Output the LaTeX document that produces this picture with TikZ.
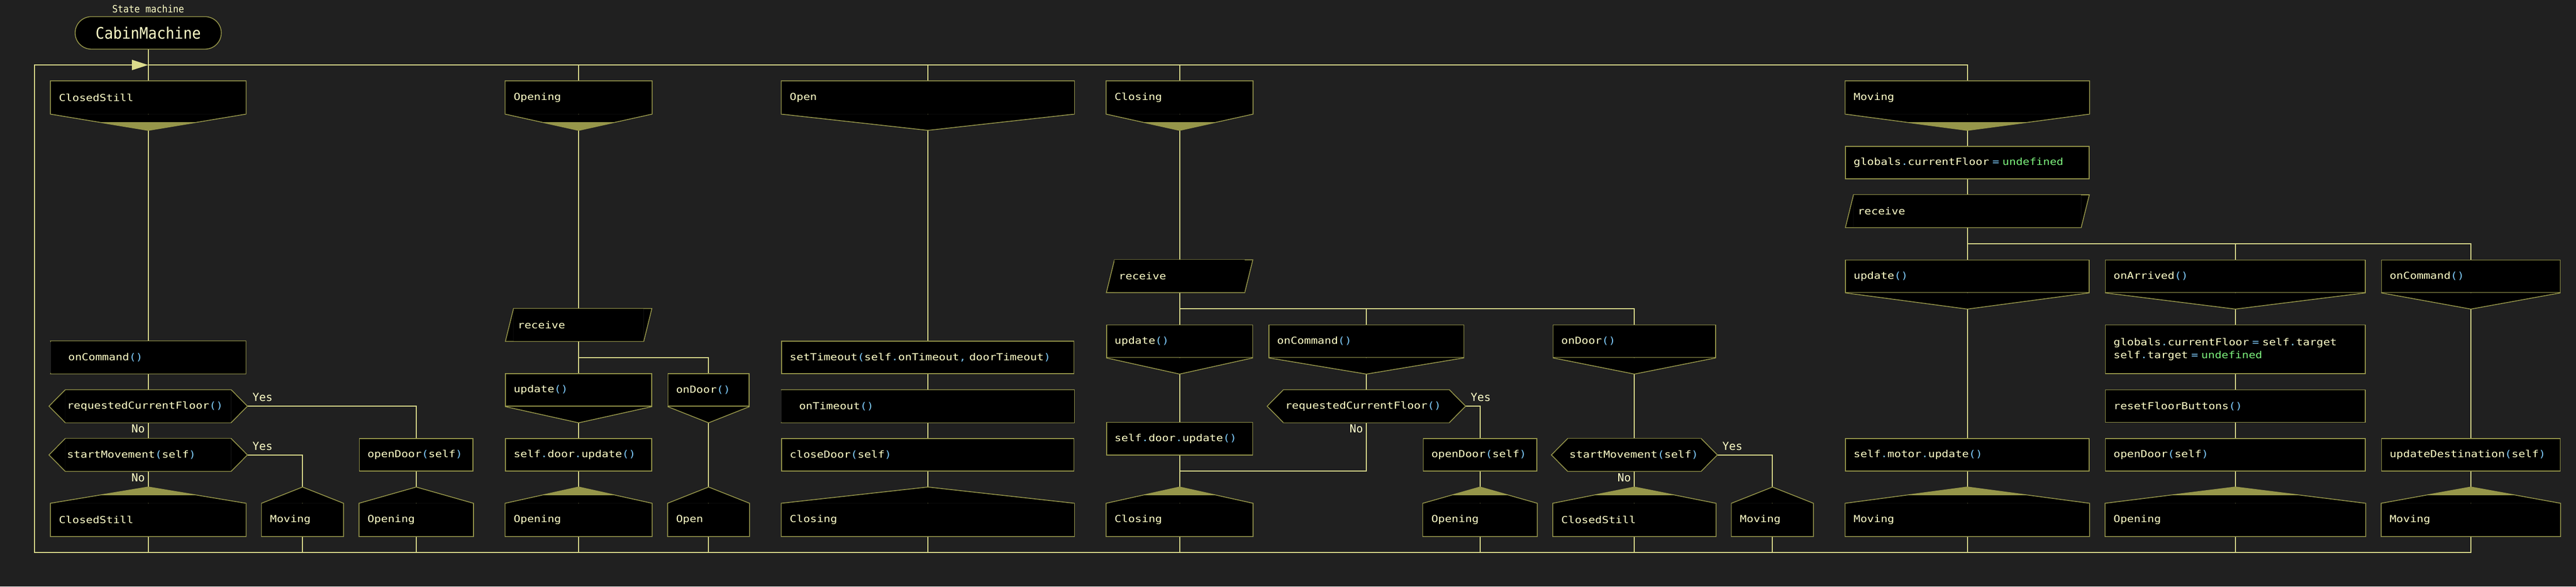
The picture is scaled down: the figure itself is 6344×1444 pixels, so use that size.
\documentclass[tikz,border=0pt]{standalone}
\usepackage{fontspec}
\usetikzlibrary{arrows.meta,calc}

\newfontfamily\codefam[FakeStretch=1.17]{DejaVu Sans Mono}
\newfontfamily\ttlfam[FakeStretch=0.92]{DejaVu Sans Mono}
\newfontfamily\lblfam{DejaVu Sans Mono}

\definecolor{bgc}{HTML}{202020}
\definecolor{linec}{HTML}{DCDC8C}
\definecolor{boxc}{HTML}{96964A}
\definecolor{txtc}{HTML}{FFFFC8}
\definecolor{punc}{HTML}{7CC8F8}
\definecolor{undefc}{HTML}{7CF07C}

\newcommand\pnc[1]{\textcolor{punc}{#1}}
\newcommand\undf{\textcolor{undefc}{undefined}}

\pgfdeclarelayer{bg}
\pgfdeclarelayer{lines}
\pgfsetlayers{bg,lines,main}

\begin{document}
\begin{tikzpicture}[x=0.5pt,y=-0.5pt,
                    ln/.style={draw=linec,line width=1.25pt},
                    outl/.style={draw=boxc,line width=1pt}]
  \tikzset{bx/.style={fill=black,draw=none,text=txtc,align=left,inner ysep=0pt,
                      minimum height=40pt,font=\codefam\fontsize{11.85pt}{16pt}\selectfont},
    act/.style={bx,outl,inner xsep=10pt,text width=#1*0.5pt-20pt},
    hdr/.style={act=#1,draw=none,append after command={\pgfextra{
      \fill[black] (\tikzlastnode.south west) -- ([yshift=-20pt]\tikzlastnode.south) -- (\tikzlastnode.south east) -- cycle;
      \draw[outl] (\tikzlastnode.north west) -- (\tikzlastnode.north east) -- (\tikzlastnode.south east)
        -- ([yshift=-20pt]\tikzlastnode.south) -- (\tikzlastnode.south west) -- cycle;}}},
    ftr/.style={act=#1,draw=none,append after command={\pgfextra{
      \fill[black] (\tikzlastnode.north west) -- ([yshift=20pt]\tikzlastnode.north) -- (\tikzlastnode.north east) -- cycle;
      \draw[outl] (\tikzlastnode.south west) -- (\tikzlastnode.north west) -- ([yshift=20pt]\tikzlastnode.north)
        -- (\tikzlastnode.north east) -- (\tikzlastnode.south east) -- cycle;}}},
    mkd/.style={append after command={\pgfextra{
      \fill[boxc] ($(\tikzlastnode.south west)!.5!([yshift=-20pt]\tikzlastnode.south)$) -- ([yshift=-20pt]\tikzlastnode.south)
        -- ($(\tikzlastnode.south east)!.5!([yshift=-20pt]\tikzlastnode.south)$) -- cycle;}}},
    mku/.style={append after command={\pgfextra{
      \fill[boxc] ($(\tikzlastnode.north west)!.5!([yshift=20pt]\tikzlastnode.north)$) -- ([yshift=20pt]\tikzlastnode.north)
        -- ($(\tikzlastnode.north east)!.5!([yshift=20pt]\tikzlastnode.north)$) -- cycle;}}},
    cse/.style={act=#1,append after command={\pgfextra{
      \draw[outl,fill=black] (\tikzlastnode.south west) -- ([yshift=-20pt]\tikzlastnode.south) -- (\tikzlastnode.south east);}}},
    evt/.style={bx,inner xsep=21.5pt,text width=#1*0.5pt-43pt,append after command={\pgfextra{
      \fill[bgc] (\tikzlastnode.north west) -- ([xshift=14pt]\tikzlastnode.west) -- (\tikzlastnode.south west) -- cycle;
      \draw[outl] (\tikzlastnode.north west) -- (\tikzlastnode.north east) -- (\tikzlastnode.south east)
        -- (\tikzlastnode.south west) -- ([xshift=14pt]\tikzlastnode.west) -- cycle;}}},
    qst/.style={bx,inner xsep=2pt,text width=(#1-80)*0.5pt-4pt,append after command={\pgfextra{
      \fill[black] (\tikzlastnode.north west) -- ([xshift=-20pt]\tikzlastnode.west) -- (\tikzlastnode.south west) -- cycle;
      \fill[black] (\tikzlastnode.north east) -- ([xshift=20pt]\tikzlastnode.east) -- (\tikzlastnode.south east) -- cycle;
      \draw[outl] (\tikzlastnode.north west) -- ([xshift=-20pt]\tikzlastnode.west) -- (\tikzlastnode.south west)
        -- (\tikzlastnode.south east) -- ([xshift=20pt]\tikzlastnode.east) -- (\tikzlastnode.north east) -- cycle;}}},
    rcv/.style={bx,inner xsep=5pt,text width=(#1-40)*0.5pt-10pt,append after command={\pgfextra{
      \fill[black] (\tikzlastnode.north west) -- (\tikzlastnode.south west) -- ([xshift=-10pt]\tikzlastnode.south west) -- cycle;
      \fill[black] (\tikzlastnode.north east) -- ([xshift=10pt]\tikzlastnode.north east) -- (\tikzlastnode.south east) -- cycle;
      \draw[outl] ([xshift=-10pt]\tikzlastnode.south west) -- (\tikzlastnode.north west)
        -- ([xshift=10pt]\tikzlastnode.north east) -- (\tikzlastnode.south east) -- cycle;}}},
    ttl/.style={outl,fill=black,rounded corners=20pt,minimum width=180pt,minimum height=40pt,
                text=txtc,font=\ttlfam\fontsize{19.5pt}{22pt}\selectfont},
    toplbl/.style={text=txtc,font=\ttlfam\fontsize{12.3pt}{14pt}\selectfont},
    lbl/.style={text=txtc,inner sep=0pt,font=\lblfam\fontsize{13.7pt}{16pt}\selectfont}}

  \begin{pgfonlayer}{bg}
    \fill[bgc] (0,0) rectangle (6344,1444);
  \end{pgfonlayer}

  % title
  \node[toplbl] (smlbl) at (365,22) {State machine};
  \node[ttl] (cabin) at (365,81) {CabinMachine};

  % ClosedStill
  \node[hdr=480,mkd] (hCS) at (365,240) {ClosedStill};
  \node[evt=480] (eCS) at (365,880) {onCommand\pnc{()}};
  \node[qst=488] (q1CS) at (365,1000) {requestedCurrentFloor\pnc{()}};
  \node[qst=488] (q2CS) at (365,1120) {startMovement\pnc{(}self\pnc{)}};
  \node[act=280] (aOdCS) at (1025,1120) {openDoor\pnc{(}self\pnc{)}};
  \node[ftr=480,mku] (fCS) at (365,1280) {ClosedStill};
  \node[ftr=200] (fMvCS) at (745,1280) {Moving};
  \node[ftr=280] (fOpCS) at (1025,1280) {Opening};
  \node[lbl,anchor=base west] (y1CS) at ([xshift=26pt,yshift=6pt]q1CS.east) {Yes};
  \node[lbl,anchor=north east] (n1CS) at ([xshift=-4pt,yshift=-2.5pt]q1CS.south) {No};
  \node[lbl,anchor=base west] (y2CS) at ([xshift=26pt,yshift=6pt]q2CS.east) {Yes};
  \node[lbl,anchor=north east] (n2CS) at ([xshift=-4pt,yshift=-2.5pt]q2CS.south) {No};

  % Opening
  \node[hdr=360,mkd] (hOp) at (1425,240) {Opening};
  \node[rcv=360] (rOp) at (1425,800) {receive};
  \node[cse=360] (cUpOp) at (1425,960) {update\pnc{()}};
  \node[cse=200] (cDrOp) at (1745,960) {onDoor\pnc{()}};
  \node[act=360] (aDuOp) at (1425,1120) {self\pnc{.}door\pnc{.}update\pnc{()}};
  \node[ftr=360,mku] (fOpOp) at (1425,1280) {Opening};
  \node[ftr=200] (fOnOp) at (1745,1280) {Open};

  % Open
  \node[hdr=720] (hOn) at (2285,240) {Open};
  \node[act=720] (aStOn) at (2285,880) {setTimeout\pnc{(}self\pnc{.}onTimeout\pnc{,} doorTimeout\pnc{)}};
  \node[evt=720] (eToOn) at (2285,1000) {onTimeout\pnc{()}};
  \node[act=720] (aCdOn) at (2285,1120) {closeDoor\pnc{(}self\pnc{)}};
  \node[ftr=720] (fClOn) at (2285,1280) {Closing};

  % Closing
  \node[hdr=360,mkd] (hCl) at (2905,240) {Closing};
  \node[rcv=360] (rCl) at (2905,680) {receive};
  \node[cse=360] (cUpCl) at (2905,840) {update\pnc{()}};
  \node[cse=480] (cCmCl) at (3365,840) {onCommand\pnc{()}};
  \node[cse=400] (cDrCl) at (4025,840) {onDoor\pnc{()}};
  \node[act=360] (aDuCl) at (2905,1080) {self\pnc{.}door\pnc{.}update\pnc{()}};
  \node[qst=488] (qRcCl) at (3365,1000) {requestedCurrentFloor\pnc{()}};
  \node[act=280] (aOdCl) at (3645,1120) {openDoor\pnc{(}self\pnc{)}};
  \node[qst=408] (qSmCl) at (4025,1120) {startMovement\pnc{(}self\pnc{)}};
  \node[ftr=360,mku] (fClCl) at (2905,1280) {Closing};
  \node[ftr=280,mku] (fOpCl) at (3645,1280) {Opening};
  \node[ftr=400,mku] (fCsCl) at (4025,1280) {ClosedStill};
  \node[ftr=200] (fMvCl) at (4365,1280) {Moving};
  \node[lbl,anchor=base west] (yRcCl) at ([xshift=26pt,yshift=6pt]qRcCl.east) {Yes};
  \node[lbl,anchor=north east] (nRcCl) at ([xshift=-4pt,yshift=-2.5pt]qRcCl.south) {No};
  \node[lbl,anchor=base west] (ySmCl) at ([xshift=26pt,yshift=6pt]qSmCl.east) {Yes};
  \node[lbl,anchor=north east] (nSmCl) at ([xshift=-4pt,yshift=-2.5pt]qSmCl.south) {No};

  % Moving
  \node[hdr=600,mkd] (hMv) at (4845,240) {Moving};
  \node[act=600] (aGcMv) at (4845,400) {globals\pnc{.}currentFloor \pnc{=} \undf};
  \node[rcv=600] (rMv) at (4845,520) {receive};
  \node[cse=600] (cUpMv) at (4845,680) {update\pnc{()}};
  \node[cse=640] (cArMv) at (5505,680) {onArrived\pnc{()}};
  \node[cse=440] (cCmMv) at (6085,680) {onCommand\pnc{()}};
  \node[act=640,minimum height=60pt] (aGtMv) at (5505,860)
    {globals\pnc{.}currentFloor \pnc{=} self\pnc{.}target\\self\pnc{.}target \pnc{=} \undf};
  \node[act=640] (aRbMv) at (5505,1000) {resetFloorButtons\pnc{()}};
  \node[act=600] (aMuMv) at (4845,1120) {self\pnc{.}motor\pnc{.}update\pnc{()}};
  \node[act=640] (aOdMv) at (5505,1120) {openDoor\pnc{(}self\pnc{)}};
  \node[act=440] (aUdMv) at (6085,1120) {updateDestination\pnc{(}self\pnc{)}};
  \node[ftr=600,mku] (fMvMv) at (4845,1280) {Moving};
  \node[ftr=640,mku] (fOpMv) at (5505,1280) {Opening};
  \node[ftr=440,mku] (fMv2Mv) at (6085,1280) {Moving};

  \begin{pgfonlayer}{lines}
    \coordinate (tl) at (85,160);
    \coordinate (bl) at (85,1360);
    \coordinate (tCS) at (365,160);
    \draw[ln,-{Triangle[length=20pt,width=12.5pt]}] (fMv2Mv) |- (bl) -- (tl) -- (tCS);
    \draw[ln] (tCS) -| (hMv);
    \draw[ln] (cabin) -- (hCS);
    \foreach \h in {hOp,hOn,hCl}
      \draw[ln] (\h |- tl) -- (\h);
    \foreach \f in {fCS,fMvCS,fOpCS,fOpOp,fOnOp,fClOn,fClCl,fOpCl,fCsCl,fMvCl,fMvMv,fOpMv}
      \draw[ln] (\f) -- (\f |- bl);

    \draw[ln] (hCS) -- (eCS) -- (q1CS) -- (q2CS) -- (fCS);
    \draw[ln] (q1CS) -| (aOdCS) -- (fOpCS);
    \draw[ln] (q2CS) -| (fMvCS);

    \coordinate (bOp) at (1745,880);
    \draw[ln] (hOp) -- (rOp) -- (cUpOp) -- (aDuOp) -- (fOpOp);
    \draw[ln] (rOp) |- (bOp) -- (cDrOp) -- (fOnOp);

    \draw[ln] (hOn) -- (aStOn) -- (eToOn) -- (aCdOn) -- (fClOn);

    \coordinate (bCl) at (4025,760);
    \coordinate (jCl) at (2905,1160);
    \draw[ln] (hCl) -- (rCl) -- (cUpCl) -- (aDuCl) -- (fClCl);
    \draw[ln] (rCl) |- (bCl) -- (cDrCl) -- (qSmCl) -- (fCsCl);
    \draw[ln] (cCmCl |- bCl) -- (cCmCl) -- (qRcCl) |- (jCl);
    \draw[ln] (qRcCl) -| (aOdCl) -- (fOpCl);
    \draw[ln] (qSmCl) -| (fMvCl);

    \coordinate (bMv) at (6085,600);
    \draw[ln] (hMv) -- (aGcMv) -- (rMv) -- (cUpMv) -- (aMuMv) -- (fMvMv);
    \draw[ln] (rMv) |- (bMv) -- (cCmMv) -- (aUdMv) -- (fMv2Mv);
    \draw[ln] (cArMv |- bMv) -- (cArMv) -- (aGtMv) -- (aRbMv) -- (aOdMv) -- (fOpMv);
  \end{pgfonlayer}

\end{tikzpicture}
\end{document}
